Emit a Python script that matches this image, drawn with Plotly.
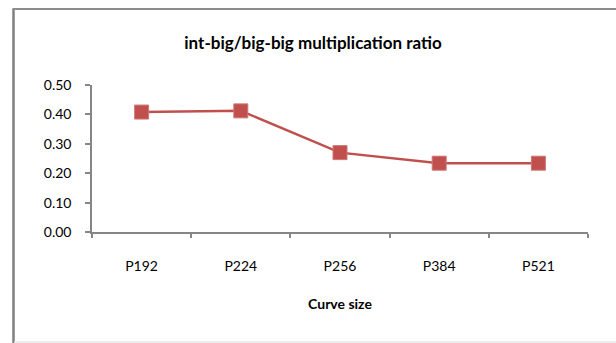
import plotly.graph_objects as go

# Data
categories = ["P192", "P224", "P256", "P384", "P521"]
ratios = [0.408, 0.412, 0.270, 0.234, 0.234]
y_ticks = [0.0, 0.1, 0.2, 0.3, 0.4, 0.5]

W, H = 616, 343
ML, MR, MT, MB = 92, 28, 85, 111
PW, PH = W - ML - MR, H - MT - MB


def px_x(x):
    return (x - ML) / PW


def px_y(y):
    return (H - MB - y) / PH


RED = "#C0504D"
AXIS = "#868686"
FONT = "Lato, 'Open Sans', sans-serif"

fig = go.Figure(
    go.Scatter(
        x=categories,
        y=ratios,
        mode="lines+markers",
        line=dict(color=RED, width=2.5),
        marker=dict(symbol="square", size=14, color=RED,
                    line=dict(color="#CF7775", width=1)),
        showlegend=False,
        hoverinfo="x+y",
    )
)

fig.update_layout(
    width=W,
    height=H,
    margin=dict(l=ML, r=MR, t=MT, b=MB, pad=0),
    paper_bgcolor="white",
    plot_bgcolor="white",
    font=dict(family=FONT, size=14, color="black"),
    title=dict(
        text="<b>int-big/big-big multiplication ratio</b>",
        font=dict(family=FONT, size=17, color="black"),
        xref="paper", x=px_x(313), xanchor="center",
        yref="container", y=1 - 43 / H, yanchor="middle",
    ),
    xaxis=dict(
        type="category",
        range=[-0.5, len(categories) - 0.5],
        showline=True, linecolor=AXIS, linewidth=1.5,
        ticks="outside", tickson="boundaries", ticklen=4,
        tickcolor=AXIS, tickwidth=1.5,
        showgrid=False, zeroline=False,
        ticklabelstandoff=20,
        tickfont=dict(size=14),
        title=dict(text="<b>Curve size</b>", font=dict(size=14), standoff=27),
    ),
    yaxis=dict(
        range=[0, 0.5],
        tickvals=y_ticks, tickformat=".2f",
        showline=True, linecolor=AXIS, linewidth=1.5,
        ticks="outside", ticklen=5, tickcolor=AXIS, tickwidth=1.5,
        showgrid=False, zeroline=False,
        ticklabelstandoff=11,
        tickfont=dict(size=14),
    ),
    shapes=[
        # chart frame: dark left and top edges, faint bottom edge
        dict(type="line", xref="paper", yref="paper",
             x0=px_x(13.5), x1=px_x(13.5), y0=px_y(9), y1=px_y(H + 2),
             line=dict(color="#7F7F7F", width=2.5)),
        dict(type="line", xref="paper", yref="paper",
             x0=px_x(12.5), x1=px_x(W + 2), y0=px_y(9), y1=px_y(9),
             line=dict(color="#8C8C8C", width=2)),
        dict(type="line", xref="paper", yref="paper",
             x0=px_x(14), x1=px_x(W + 2), y0=px_y(342), y1=px_y(342),
             line=dict(color="#E6E6E6", width=1.5)),
    ],
)

fig.write_html("out.html")
